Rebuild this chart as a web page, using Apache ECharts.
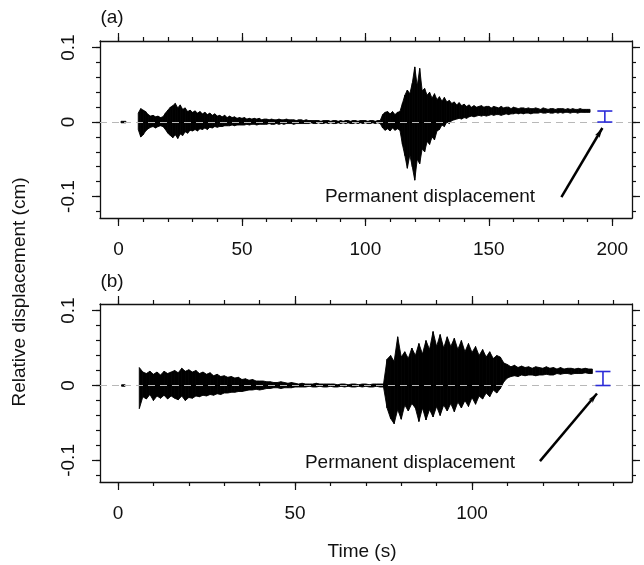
<!DOCTYPE html>
<html>
<head>
<meta charset="utf-8">
<script src="https://cdn.jsdelivr.net/npm/echarts@6/dist/echarts.min.js"></script>
<style>
  html, body { margin: 0; padding: 0; background: #fff; }
  #chart { width: 644px; height: 565px; }
</style>
</head>
<body>
<div id="chart"></div>
<script>
// envelope of each trace, one value per second (index = time in s)
// null = no trace drawn
const traceAHigh = [
  null, 0.001, 0.001, 0.001, null, null, null, null, 0.012, 0.018,
  0.016, 0.014, 0.010, 0.008, 0.009, 0.007, 0.008, 0.006, 0.007, 0.012,
  0.016, 0.020, 0.022, 0.025, 0.019, 0.023, 0.017, 0.019, 0.014, 0.016,
  0.013, 0.015, 0.012, 0.014, 0.011, 0.013, 0.010, 0.012, 0.009, 0.011,
  0.008, 0.009, 0.007, 0.009, 0.006, 0.008, 0.006, 0.007, 0.005, 0.006,
  0.005, 0.006, 0.004, 0.005, 0.004, 0.005, 0.004, 0.005, 0.003, 0.004,
  0.004, 0.003, 0.004, 0.003, 0.003, 0.004, 0.003, 0.003, 0.004, 0.003,
  0.003, 0.003, 0.002, 0.003, 0.003, 0.002, 0.003, 0.002, 0.002, 0.002,
  0.002, 0.002, 0.001, 0.002, 0.002, 0.002, 0.001, 0.002, 0.002, 0.001,
  0.002, 0.001, 0.002, 0.002, 0.001, 0.002, 0.002, 0.001, 0.002, 0.002,
  0.002, 0.001, 0.002, 0.002, 0.001, 0.002, 0.002, 0.010, 0.013, 0.014,
  0.011, 0.014, 0.010, 0.013, 0.014, 0.025, 0.036, 0.043, 0.038, 0.052,
  0.074, 0.048, 0.072, 0.042, 0.045, 0.036, 0.040, 0.032, 0.038, 0.030,
  0.034, 0.028, 0.033, 0.027, 0.029, 0.025, 0.027, 0.023, 0.026, 0.022,
  0.024, 0.021, 0.023, 0.020, 0.022, 0.020, 0.021, 0.022, 0.020, 0.021,
  0.021, 0.019, 0.021, 0.020, 0.019, 0.021, 0.019, 0.020, 0.020, 0.018,
  0.020, 0.019, 0.018, 0.019, 0.019, 0.018, 0.019, 0.018, 0.018, 0.019,
  0.018, 0.017, 0.019, 0.018, 0.017, 0.018, 0.018, 0.017, 0.018, 0.018,
  0.018, 0.017, 0.018, 0.017, 0.018, 0.017, 0.017, 0.018, 0.017, 0.017,
  0.017, 0.017
];
const traceALow = [
  null, -0.001, -0.001, -0.001, null, null, null, null, -0.010, -0.020,
  -0.017, -0.012, -0.009, -0.007, -0.006, -0.008, -0.006, -0.005, -0.006, -0.010,
  -0.015, -0.018, -0.021, -0.017, -0.022, -0.016, -0.018, -0.013, -0.015, -0.011,
  -0.012, -0.010, -0.012, -0.009, -0.010, -0.008, -0.010, -0.007, -0.008, -0.006,
  -0.007, -0.006, -0.006, -0.005, -0.005, -0.005, -0.004, -0.005, -0.004, -0.004,
  -0.004, -0.004, -0.003, -0.004, -0.003, -0.003, -0.004, -0.003, -0.003, -0.003,
  -0.003, -0.002, -0.003, -0.003, -0.002, -0.003, -0.002, -0.003, -0.002, -0.002,
  -0.002, -0.003, -0.002, -0.002, -0.002, -0.002, -0.002, -0.002, -0.001, -0.002,
  -0.002, -0.001, -0.002, -0.002, -0.001, -0.002, -0.001, -0.002, -0.002, -0.001,
  -0.002, -0.001, -0.002, -0.001, -0.002, -0.002, -0.001, -0.002, -0.001, -0.002,
  -0.001, -0.002, -0.002, -0.001, -0.002, -0.001, -0.002, -0.008, -0.011, -0.009,
  -0.012, -0.008, -0.011, -0.009, -0.011, -0.030, -0.045, -0.062, -0.044, -0.060,
  -0.078, -0.050, -0.056, -0.036, -0.040, -0.026, -0.030, -0.020, -0.024, -0.012,
  -0.010, -0.004, -0.006, 0.000, -0.002, 0.002, 0.003, 0.004, 0.005, 0.004,
  0.006, 0.005, 0.007, 0.008, 0.007, 0.008, 0.009, 0.008, 0.009, 0.008,
  0.009, 0.010, 0.009, 0.010, 0.010, 0.009, 0.010, 0.011, 0.010, 0.011,
  0.011, 0.012, 0.011, 0.012, 0.011, 0.012, 0.012, 0.011, 0.012, 0.012,
  0.012, 0.013, 0.012, 0.012, 0.013, 0.012, 0.012, 0.013, 0.012, 0.013,
  0.012, 0.013, 0.013, 0.012, 0.013, 0.013, 0.012, 0.013, 0.013, 0.013,
  0.013, 0.013
];
const traceBHigh = [
  null, 0.001, 0.001, null, null, null, 0.024, 0.018, 0.016, 0.019,
  0.015, 0.018, 0.014, 0.019, 0.016, 0.018, 0.020, 0.017, 0.023, 0.019,
  0.021, 0.018, 0.020, 0.016, 0.018, 0.015, 0.017, 0.013, 0.015, 0.012,
  0.013, 0.011, 0.012, 0.010, 0.011, 0.008, 0.009, 0.007, 0.008, 0.006,
  0.006, 0.006, 0.005, 0.005, 0.004, 0.004, 0.005, 0.004, 0.003, 0.004,
  0.003, 0.002, 0.003, 0.002, 0.002, 0.002, 0.003, 0.002, 0.002, 0.002,
  0.002, 0.002, 0.001, 0.002, 0.002, 0.001, 0.002, 0.002, 0.001, 0.002,
  0.002, 0.001, 0.002, 0.002, 0.002, 0.002, 0.035, 0.040, 0.032, 0.065,
  0.038, 0.045, 0.036, 0.050, 0.040, 0.056, 0.042, 0.060, 0.048, 0.072,
  0.052, 0.068, 0.050, 0.065, 0.052, 0.063, 0.048, 0.060, 0.045, 0.056,
  0.044, 0.052, 0.040, 0.048, 0.038, 0.045, 0.036, 0.040, 0.038, 0.030,
  0.028, 0.025, 0.027, 0.024, 0.026, 0.024, 0.025, 0.023, 0.025, 0.024,
  0.023, 0.025, 0.023, 0.024, 0.022, 0.024, 0.022, 0.023, 0.023, 0.022,
  0.023, 0.022, 0.023, 0.022, 0.022
];
const traceBLow = [
  null, -0.001, -0.001, null, null, null, -0.031, -0.015, -0.018, -0.012,
  -0.020, -0.014, -0.017, -0.013, -0.018, -0.014, -0.017, -0.019, -0.014, -0.020,
  -0.016, -0.017, -0.014, -0.015, -0.013, -0.014, -0.012, -0.013, -0.011, -0.012,
  -0.010, -0.010, -0.009, -0.009, -0.008, -0.008, -0.007, -0.006, -0.006, -0.005,
  -0.006, -0.005, -0.004, -0.004, -0.003, -0.003, -0.004, -0.003, -0.003, -0.003,
  -0.002, -0.002, -0.002, -0.002, -0.001, -0.002, -0.002, -0.001, -0.002, -0.002,
  -0.001, -0.002, -0.002, -0.001, -0.002, -0.001, -0.002, -0.002, -0.001, -0.002,
  -0.001, -0.002, -0.002, -0.001, -0.002, -0.002, -0.030, -0.044, -0.051, -0.032,
  -0.045, -0.026, -0.034, -0.024, -0.030, -0.048, -0.030, -0.046, -0.032, -0.042,
  -0.028, -0.040, -0.026, -0.034, -0.024, -0.035, -0.022, -0.030, -0.020, -0.028,
  -0.016, -0.025, -0.014, -0.018, -0.010, -0.015, -0.006, -0.010, -0.004, 0.005,
  0.010, 0.012, 0.013, 0.012, 0.014, 0.013, 0.014, 0.014, 0.013, 0.014,
  0.014, 0.015, 0.014, 0.014, 0.016, 0.015, 0.016, 0.016, 0.015, 0.016,
  0.016, 0.016, 0.017, 0.016, 0.016
];

// permanent displacement bars: [time, value]
const permanentA = [197, 0.0148];
const permanentB = [137, 0.0187];

// tick labels
const xLabelsA = [0, 50, 100, 150, 200];
const xMinorA = [0, 10, 20, 30, 40, 50, 60, 70, 80, 90, 100, 110, 120, 130, 140, 150, 160, 170, 180, 190, 200];
const xLabelsB = [0, 50, 100];
const xMinorB = [0, 10, 20, 30, 40, 50, 60, 70, 80, 90, 100, 110, 120, 130, 140];
const yLabels = [-0.1, 0, 0.1];
const yMinor = [-0.12, -0.1, -0.08, -0.06, -0.04, -0.02, 0, 0.02, 0.04, 0.06, 0.08, 0.1];

// annotation arrows, tail -> head, in data units
const arrowA = [[179.4, -0.1007], [196, -0.008]];
const arrowB = [[119.2, -0.101], [135.3, -0.0107]];

const FONT = '"Liberation Sans", Arial, sans-serif';
const INK = '#111';
const BLUE = '#2b2bd8';

// one quad per second between consecutive envelope samples
function bandSegments(high, low) {
  const segs = [];
  for (let t = 0; t < high.length - 1; t++) {
    if (high[t] == null || high[t + 1] == null) continue;
    segs.push([t, high[t], low[t], t + 1, high[t + 1], low[t + 1]]);
  }
  return segs;
}

function renderBand(params, api) {
  const p = [
    api.coord([api.value(0), api.value(1)]),
    api.coord([api.value(3), api.value(4)]),
    api.coord([api.value(3), api.value(5)]),
    api.coord([api.value(0), api.value(2)]),
  ];
  return {
    type: 'polygon', shape: { points: p },
    style: { fill: '#000', stroke: '#000', lineWidth: 0.9 },
  };
}

function xAxes(gi, min, max, labels, minor) {
  const base = { gridIndex: gi, type: 'value', min, max, splitLine: { show: false } };
  const line = { show: true, onZero: false, lineStyle: { color: INK, width: 1.3 } };
  const noLine = { show: false, onZero: false };
  const tick = (len, vals) => ({ show: true, length: len, customValues: vals, lineStyle: { color: INK, width: 1.2 } });
  return [
    { ...base, position: 'bottom', axisLine: line, axisTick: tick(8, labels),
      axisLabel: { customValues: labels, margin: 22, fontSize: 19, fontFamily: FONT, color: INK } },
    { ...base, position: 'bottom', axisLine: noLine, axisTick: tick(4, minor), axisLabel: { show: false } },
    { ...base, position: 'top', axisLine: line, axisTick: tick(8, labels), axisLabel: { show: false } },
    { ...base, position: 'top', axisLine: noLine, axisTick: tick(4, minor), axisLabel: { show: false } },
  ];
}

function yAxes(gi) {
  const base = { gridIndex: gi, type: 'value', min: -0.1288, max: 0.1088, splitLine: { show: false } };
  const line = { show: true, onZero: false, lineStyle: { color: INK, width: 1.3 } };
  const noLine = { show: false, onZero: false };
  const tick = (len, vals) => ({ show: true, length: len, customValues: vals, lineStyle: { color: INK, width: 1.2 } });
  return [
    { ...base, position: 'left', axisLine: line, axisTick: tick(8, yLabels),
      axisLabel: { customValues: yLabels, rotate: 90, margin: 22, fontSize: 19, fontFamily: FONT, color: INK,
        formatter: v => String(v) } },
    { ...base, position: 'left', axisLine: noLine, axisTick: tick(4, yMinor), axisLabel: { show: false } },
    { ...base, position: 'right', axisLine: line, axisTick: tick(8, yLabels), axisLabel: { show: false } },
    { ...base, position: 'right', axisLine: noLine, axisTick: tick(4, yMinor), axisLabel: { show: false } },
  ];
}

function panelSeries(gi, high, low, perm, arrow) {
  const xi = gi * 4, yi = gi * 4;
  return [
    {
      type: 'custom', xAxisIndex: xi, yAxisIndex: yi, data: bandSegments(high, low),
      renderItem: renderBand, z: 2, silent: true,
    },
    {
      type: 'line', xAxisIndex: xi, yAxisIndex: yi, data: [], z: 4,
      markLine: {
        silent: true, symbol: 'none', label: { show: false },
        lineStyle: { color: '#b8b8b8', type: [7, 5], width: 1.2 },
        data: [{ yAxis: 0 }],
      },
    },
    {
      type: 'custom', xAxisIndex: xi, yAxisIndex: yi, data: [perm], z: 5,
      renderItem: (params, api) => {
        const bottom = api.coord([api.value(0), 0]);
        const top = api.coord([api.value(0), api.value(1)]);
        const w = 7.5;
        const st = { stroke: BLUE, lineWidth: 1.6 };
        return {
          type: 'group', children: [
            { type: 'line', shape: { x1: bottom[0], y1: bottom[1], x2: top[0], y2: top[1] }, style: st },
            { type: 'line', shape: { x1: top[0] - w, y1: top[1], x2: top[0] + w, y2: top[1] }, style: st },
            { type: 'line', shape: { x1: bottom[0] - w, y1: bottom[1], x2: bottom[0] + w, y2: bottom[1] }, style: st },
          ],
        };
      },
      markLine: {
        silent: true, symbol: ['none', 'arrow'], symbolSize: [4, 10], label: { show: false },
        lineStyle: { color: '#000', type: 'solid', width: 2.5 },
        data: [[{ coord: arrow[0] }, { coord: arrow[1] }]],
      },
    },
  ];
}

const textStyle = (text, x, y, extra) => ({
  type: 'text', x, y, ...extra,
  style: { text, font: '19px ' + FONT, fill: INK, textAlign: 'center', textVerticalAlign: 'middle' },
});

const chart = echarts.init(document.getElementById('chart'));
chart.setOption({
  animation: false,
  backgroundColor: '#fff',
  grid: [
    { left: 100, right: 12, top: 41, height: 177 },
    { left: 100, right: 12, top: 304, height: 178 },
  ],
  xAxis: [...xAxes(0, -7.5, 208, xLabelsA, xMinorA), ...xAxes(1, -5.1, 145.2, xLabelsB, xMinorB)],
  yAxis: [...yAxes(0), ...yAxes(1)],
  series: [
    ...panelSeries(0, traceAHigh, traceALow, permanentA, arrowA),
    ...panelSeries(1, traceBHigh, traceBLow, permanentB, arrowB),
  ],
  graphic: [
    textStyle('(a)', 112, 18),
    textStyle('(b)', 112, 282),
    textStyle('Permanent displacement', 430, 197),
    textStyle('Permanent displacement', 410, 463),
    textStyle('Time (s)', 362, 552),
    textStyle('Relative displacement (cm)', 20, 292, { rotation: Math.PI / 2 }),
  ],
});
</script>
</body>
</html>
